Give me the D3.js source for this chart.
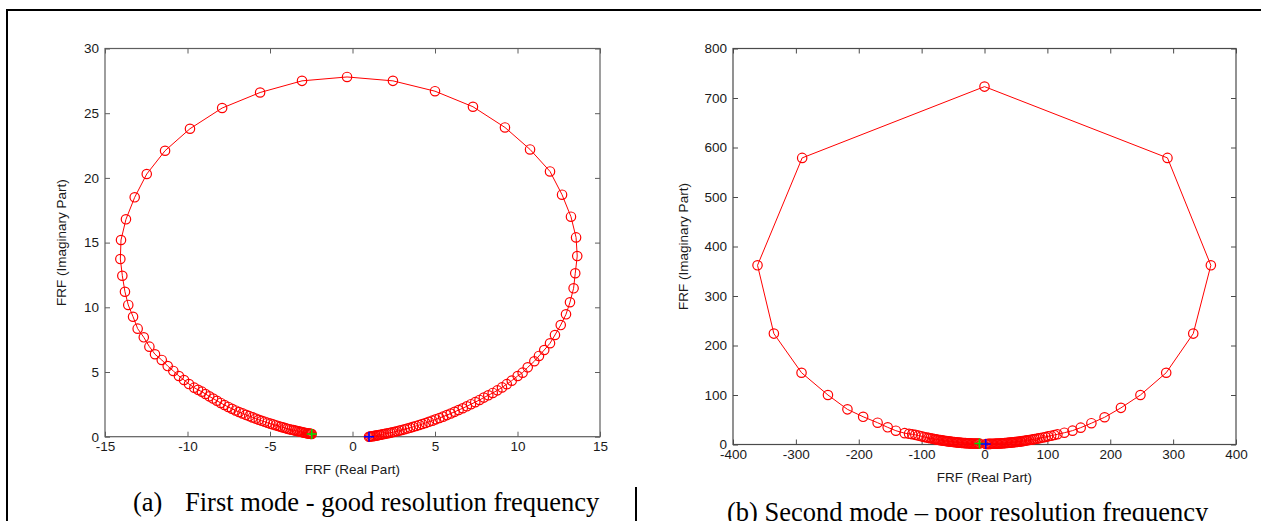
<!DOCTYPE html>
<html>
<head>
<meta charset="utf-8">
<script src="https://cdn.jsdelivr.net/npm/d3@7"></script>
<style>
  html, body { margin: 0; padding: 0; background: #fff; }
  svg { display: block; }
</style>
</head>
<body>
<svg id="fig" width="1261" height="521"></svg>
<script>
// ---- tick labels ----
const ticksA_x = [-15, -10, -5, 0, 5, 10, 15];
const ticksA_y = [0, 5, 10, 15, 20, 25, 30];
const ticksB_x = [-400, -300, -200, -100, 0, 100, 200, 300, 400];
const ticksB_y = [0, 100, 200, 300, 400, 500, 600, 700, 800];

// ---- first mode FRF (real / imaginary), from the first sample to the last ----
const modeA_re = [
  -2.47, -2.52, -2.57, -2.63, -2.69, -2.75, -2.82, -2.90, -2.98, -3.07,
  -3.16, -3.26, -3.36, -3.47, -3.58, -3.70, -3.82, -3.95, -4.08, -4.22,
  -4.36, -4.51, -4.66, -4.82, -4.98, -5.15, -5.32, -5.50, -5.68, -5.87,
  -6.06, -6.26, -6.46, -6.67, -6.88, -7.09, -7.31, -7.53, -7.76, -7.99,
  -8.22, -8.45, -8.68, -8.91, -9.13, -9.36, -9.59, -9.91, -10.21, -10.52,
  -10.86, -11.20, -11.56, -11.97, -12.31, -12.65, -13.02, -13.30, -13.59, -13.79,
  -13.95, -14.07, -14.03, -13.73, -13.20, -12.47, -11.36, -9.85, -7.90, -5.60,
  -3.06, -0.33, 2.45, 5.00, 7.30, 9.24, 10.76, 11.97, 12.70, 13.24,
  13.55, 13.62, 13.50, 13.40, 13.18, 12.94, 12.62, 12.27, 11.97, 11.62,
  11.30, 11.02, 10.62, 10.31, 10.01, 9.65, 9.35, 9.06, 8.78, 8.50,
  8.23, 7.96, 7.70, 7.44, 7.18, 6.93, 6.68, 6.43, 6.19, 5.95,
  5.72, 5.49, 5.27, 5.05, 4.84, 4.63, 4.43, 4.23, 4.04, 3.85,
  3.67, 3.49, 3.32, 3.16, 3.00, 2.85, 2.70, 2.56, 2.42, 2.29,
  2.16, 2.04, 1.92, 1.81, 1.70, 1.60, 1.50, 1.41, 1.32, 1.23,
  1.15, 1.07, 1.00
];
const modeA_im = [
  0.21, 0.22, 0.23, 0.24, 0.25, 0.27, 0.29, 0.31, 0.33, 0.36,
  0.38, 0.41, 0.44, 0.47, 0.51, 0.54, 0.58, 0.62, 0.67, 0.72,
  0.77, 0.83, 0.89, 0.95, 1.01, 1.08, 1.16, 1.23, 1.31, 1.40,
  1.49, 1.59, 1.69, 1.80, 1.91, 2.03, 2.16, 2.30, 2.45, 2.61,
  2.78, 2.95, 3.12, 3.30, 3.48, 3.62, 3.79, 4.07, 4.38, 4.69,
  5.08, 5.46, 5.93, 6.37, 6.96, 7.68, 8.35, 9.27, 10.18, 11.20,
  12.44, 13.73, 15.20, 16.80, 18.50, 20.30, 22.10, 23.80, 25.40, 26.60,
  27.50, 27.80, 27.50, 26.70, 25.50, 23.90, 22.20, 20.50, 18.70, 17.00,
  15.40, 13.96, 12.63, 11.47, 10.39, 9.46, 8.63, 7.86, 7.22, 6.70,
  6.24, 5.83, 5.36, 4.95, 4.69, 4.33, 4.06, 3.81, 3.58, 3.38,
  3.20, 3.02, 2.84, 2.67, 2.51, 2.35, 2.20, 2.06, 1.92, 1.79,
  1.67, 1.55, 1.44, 1.34, 1.24, 1.15, 1.06, 0.98, 0.90, 0.83,
  0.76, 0.69, 0.63, 0.57, 0.52, 0.47, 0.42, 0.38, 0.34, 0.30,
  0.27, 0.24, 0.21, 0.18, 0.15, 0.13, 0.10, 0.08, 0.06, 0.04,
  0.03, 0.01, 0.00
];

// ---- second mode FRF (real / imaginary) ----
const modeB_re = [
  -8, -10, -12, -14, -16, -18, -20, -22, -24, -26,
  -28, -30, -32, -34, -36, -38, -40, -42, -44, -46,
  -48, -50, -52, -54, -56, -58, -60, -62, -64, -66,
  -68, -70, -72, -74, -76, -78, -80, -83, -86, -89,
  -92, -96, -100, -105, -110, -115, -120, -127, -141, -154,
  -170, -193, -218, -249, -291, -335, -361, -290, 0, 291,
  360, 332, 289, 248, 217, 191, 170, 153, 140, 127,
  116, 111, 106, 101, 97, 93, 89, 86, 83, 80,
  77, 74, 71, 68, 66, 64, 62, 60, 58, 56,
  54, 52, 50, 48, 46, 44, 42, 40, 38, 36,
  34, 32, 30, 28, 26, 24, 22, 20, 18, 16,
  14, 12, 10, 8, 6, 4, 2
];
const modeB_im = [
  2.0, 1.9, 1.9, 1.9, 2.0, 2.0, 2.1, 2.2, 2.3, 2.4,
  2.6, 2.7, 2.9, 3.1, 3.3, 3.5, 3.8, 4.0, 4.3, 4.6,
  4.9, 5.2, 5.5, 5.8, 6.2, 6.5, 6.9, 7.2, 7.6, 8.0,
  8.4, 8.8, 9.2, 9.7, 10.1, 10.6, 11.1, 11.9, 12.6, 13.4,
  14.2, 15.3, 16.5, 18.0, 19.5, 20.7, 21.6, 22.9, 27.9, 34.7,
  44, 56, 71, 100, 145, 224, 362, 579, 723, 579,
  362, 224, 145, 100, 74, 55, 43, 34, 28, 23.8,
  20.6, 19.2, 17.8, 16.5, 15.2, 14.2, 13.2, 12.4, 11.7, 11.0,
  10.3, 9.7, 9.1, 8.5, 8.0, 7.6, 7.2, 6.8, 6.4, 6.1,
  5.7, 5.4, 5.1, 4.8, 4.5, 4.2, 3.9, 3.7, 3.4, 3.2,
  3.0, 2.8, 2.6, 2.4, 2.2, 2.1, 1.9, 1.8, 1.7, 1.6,
  1.5, 1.4, 1.3, 1.2, 1.2, 1.1, 1.1
];

const axisTitleX = "FRF (Real Part)";
const axisTitleY = "FRF (Imaginary Part)";
const captionA = ["(a)", "First mode - good resolution frequency"];
const captionB = "(b) Second mode \u2013 poor resolution frequency";

const svg = d3.select("#fig");
const sansFont = "'Liberation Sans', Arial, Helvetica, sans-serif";
const serifFont = "'Liberation Serif', 'Times New Roman', serif";

// outer frame of the figure layout
svg.append("line").attr("x1", 6).attr("x2", 1261).attr("y1", 10).attr("y2", 10)
  .attr("stroke", "#000").attr("stroke-width", 2);
svg.append("line").attr("x1", 7).attr("x2", 7).attr("y1", 9).attr("y2", 521)
  .attr("stroke", "#000").attr("stroke-width", 2);
svg.append("line").attr("x1", 636).attr("x2", 636).attr("y1", 487).attr("y2", 521)
  .attr("stroke", "#000").attr("stroke-width", 2);

function drawPanel(cfg) {
  const x = d3.scaleLinear().domain(cfg.xDomain).range([cfg.left, cfg.right]);
  const y = d3.scaleLinear().domain(cfg.yDomain).range([cfg.bottom, cfg.top]);
  const g = svg.append("g");
  const fmt = d => String(d);
  const tick = 5;

  const styleAxis = sel => {
    sel.select(".domain").remove();
    sel.selectAll(".tick line").attr("stroke", cfg.axisColor);
    sel.selectAll(".tick text").attr("fill", "#1a1a1a")
      .style("font-family", sansFont).style("font-size", "13.5px");
  };

  g.append("g").attr("transform", `translate(0,${cfg.bottom})`)
    .call(d3.axisBottom(x).tickValues(cfg.xTicks).tickFormat(fmt).tickSize(-tick).tickSizeOuter(0).tickPadding(5))
    .call(styleAxis);
  g.append("g").attr("transform", `translate(0,${cfg.top})`)
    .call(d3.axisTop(x).tickValues(cfg.xTicks).tickFormat("").tickSize(-tick).tickSizeOuter(0))
    .call(styleAxis);
  g.append("g").attr("transform", `translate(${cfg.left},0)`)
    .call(d3.axisLeft(y).tickValues(cfg.yTicks).tickFormat(fmt).tickSize(-tick).tickSizeOuter(0).tickPadding(6))
    .call(styleAxis);
  g.append("g").attr("transform", `translate(${cfg.right},0)`)
    .call(d3.axisRight(y).tickValues(cfg.yTicks).tickFormat("").tickSize(-tick).tickSizeOuter(0))
    .call(styleAxis);

  g.append("rect")
    .attr("x", cfg.left).attr("y", cfg.top)
    .attr("width", cfg.right - cfg.left).attr("height", cfg.bottom - cfg.top)
    .attr("fill", "none").attr("stroke", cfg.axisColor).attr("stroke-width", 1.2);

  // axis titles
  g.append("text")
    .attr("x", (cfg.left + cfg.right) / 2).attr("y", cfg.bottom + 37)
    .attr("text-anchor", "middle").attr("fill", "#1a1a1a")
    .style("font-family", sansFont).style("font-size", "13.5px")
    .text(axisTitleX);
  g.append("text")
    .attr("transform", `translate(${cfg.yTitleX},${(cfg.top + cfg.bottom) / 2}) rotate(-90)`)
    .attr("text-anchor", "middle").attr("fill", "#1a1a1a")
    .style("font-family", sansFont).style("font-size", "13.5px")
    .text(axisTitleY);

  // FRF trace: connecting line plus circle markers at every sample
  const idx = d3.range(cfg.re.length);
  const line = d3.line().x(i => x(cfg.re[i])).y(i => y(cfg.im[i]));
  g.append("path").datum(idx).attr("d", line)
    .attr("fill", "none").attr("stroke", "#ff0000").attr("stroke-width", 1);
  g.selectAll("circle.pt").data(idx).join("circle").attr("class", "pt")
    .attr("cx", i => x(cfg.re[i])).attr("cy", i => y(cfg.im[i])).attr("r", 4.7)
    .attr("fill", "none").attr("stroke", "#ff0000").attr("stroke-width", 1.2);

  // first and last samples
  const plus = "M-5,0H5M0,-5V5";
  const last = cfg.re.length - 1;
  g.append("path").attr("d", plus)
    .attr("transform", `translate(${x(cfg.re[0])},${y(cfg.im[0])})`)
    .attr("stroke", "#00e000").attr("stroke-width", 1.6).attr("fill", "none");
  g.append("path").attr("d", plus)
    .attr("transform", `translate(${x(cfg.re[last])},${y(cfg.im[last])})`)
    .attr("stroke", "#0000ff").attr("stroke-width", 1.6).attr("fill", "none");
}

drawPanel({
  left: 105, right: 600, top: 48.5, bottom: 436.7,
  xDomain: [-15, 15], yDomain: [0, 30],
  xTicks: ticksA_x, yTicks: ticksA_y,
  re: modeA_re, im: modeA_im,
  yTitleX: 66, axisColor: "#5e5e5e"
});
drawPanel({
  left: 733, right: 1236, top: 48.5, bottom: 444.5,
  xDomain: [-400, 400], yDomain: [0, 800],
  xTicks: ticksB_x, yTicks: ticksB_y,
  re: modeB_re, im: modeB_im,
  yTitleX: 688, axisColor: "#4a4a4a"
});

// sub-figure captions
svg.append("text").attr("x", 133).attr("y", 510.5)
  .style("font-family", serifFont).style("font-size", "26.5px").attr("fill", "#000")
  .text(captionA[0]);
svg.append("text").attr("x", 185).attr("y", 510.5)
  .style("font-family", serifFont).style("font-size", "26.5px").attr("fill", "#000")
  .text(captionA[1]);
svg.append("text").attr("x", 727).attr("y", 521)
  .style("font-family", serifFont).style("font-size", "26.5px").attr("fill", "#000")
  .text(captionB);
</script>
</body>
</html>
